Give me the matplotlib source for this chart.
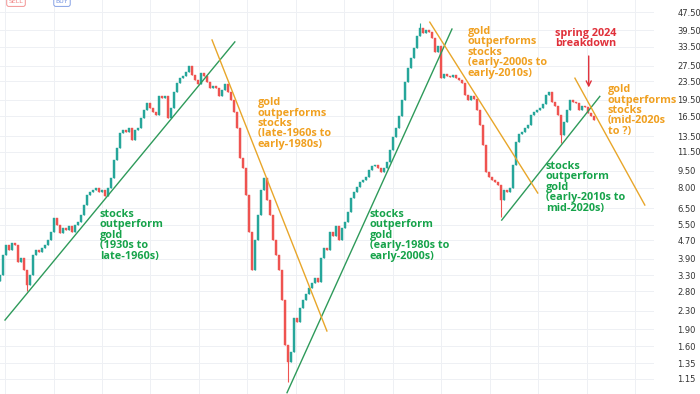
import numpy as np
import matplotlib.pyplot as plt

# stocks / gold ratio, one candle close per step
closes = [
    3.30, 4.04, 4.48, 4.25, 4.57, 4.48, 3.76, 3.92, 3.47, 2.98,
    3.30, 4.04, 4.25, 4.16, 4.34, 4.48, 4.71, 5.11, 5.88, 5.47,
    5.05, 5.31, 5.21, 5.42, 5.11, 5.47, 5.64, 6.06, 6.71, 7.42,
    7.65, 7.81, 7.98, 7.65, 7.81, 7.35, 7.98, 8.82, 10.59, 11.96,
    13.93, 14.36, 14.07, 14.65, 12.97, 14.36, 14.65, 16.22, 17.59, 18.88,
    17.94, 17.24, 16.72, 20.23, 19.82, 20.23, 16.22, 17.94, 21.07, 23.09,
    24.34, 24.84, 25.87, 27.47, 25.09, 23.80, 22.85, 25.61, 24.84, 23.32,
    21.94, 22.39, 21.94, 20.23, 21.50, 22.85, 21.07, 19.46, 17.24, 14.65,
    10.81, 9.76, 7.42, 5.11, 3.47, 4.71, 6.06, 7.81, 8.82, 7.06,
    6.06, 4.71, 4.04, 3.47, 2.56, 1.63, 1.36, 1.51, 2.13, 2.05,
    2.36, 2.56, 2.72, 2.90, 3.05, 3.20, 3.08, 3.92, 4.34, 4.25,
    5.11, 4.90, 5.42, 4.71, 5.31, 5.64, 6.25, 7.20, 7.65, 8.06,
    8.48, 8.65, 8.91, 9.57, 9.96, 10.07, 9.76, 9.38, 9.76, 10.38,
    11.72, 13.37, 14.65, 16.55, 19.46, 23.32, 26.92, 29.78, 33.01, 37.26,
    40.38, 38.41, 39.60, 38.80, 36.51, 31.65, 33.68, 24.34, 25.35, 24.84,
    24.59, 25.09, 24.34, 23.80, 23.09, 20.44, 19.46, 20.23, 19.62, 17.59,
    15.10, 12.33, 9.38, 8.91, 8.65, 8.48, 8.22, 7.06, 7.81, 7.65,
    7.98, 10.07, 12.71, 13.79, 14.07, 14.65, 15.10, 16.72, 17.24, 17.59,
    17.94, 18.69, 20.44, 21.07, 19.07, 18.31, 16.72, 13.65, 15.57, 17.59,
    19.46, 19.07, 18.88, 17.59, 18.31, 18.13, 17.06, 16.55, 15.89,
]
first_open = 3.10

# a few long wicks
wick_idx = [9, 96, 140, 167, 187]
wick_low = [2.80, 1.11, 38.0, 5.94, 12.58]
wick_high = [3.40, 1.60, 42.5, 7.30, 15.0]

price_ticks = [1.15, 1.35, 1.60, 1.90, 2.30, 2.80, 3.30, 3.90, 4.70, 5.50,
               6.50, 8.00, 9.50, 11.50, 13.50, 16.50, 19.50, 23.50, 27.50,
               33.50, 39.50, 47.50]

# trend lines: (x0, y0, x1, y1) in candle index / ratio
green_lines = [(1.67, 2.09, 78.3, 35.1),
               (95.7, 1.00, 150.7, 40.0),
               (167.3, 5.76, 200.0, 20.2)]
orange_lines = [(70.7, 35.8, 109.0, 1.87),
                (143.3, 42.9, 179.3, 7.58),
                (191.7, 24.3, 215.0, 6.71)]

GREEN = '#26a69a'
RED = '#ef5350'
TXT_GREEN = '#16a34a'
TXT_ORANGE = '#f0a020'
LINE_GREEN = '#2e9a5a'
LINE_ORANGE = '#e8a62a'

fig = plt.figure(figsize=(7, 3.94), dpi=100)
ax = fig.add_axes([0, 0, 0.934, 1])

closes = np.array(closes)
opens = np.concatenate([[first_open], closes[:-1]])
idx = np.arange(len(closes))
colors = [GREEN if c >= o else RED for o, c in zip(opens, closes)]
lo = np.minimum(opens, closes)
hi = np.maximum(opens, closes)

ax.vlines(idx, lo, hi, colors=colors, linewidth=0.8, zorder=3)
for i, l, h in zip(wick_idx, wick_low, wick_high):
    ax.vlines(i, l, h, colors=colors[i], linewidth=0.8, zorder=3)
ax.bar(idx, hi - lo, bottom=lo, width=0.65, color=colors, edgecolor=colors,
       linewidth=0.3, zorder=3)

for x0, y0, x1, y1 in green_lines:
    ax.plot([x0, x1], [y0, y1], color=LINE_GREEN, lw=1.0, zorder=4)
for x0, y0, x1, y1 in orange_lines:
    ax.plot([x0, x1], [y0, y1], color=LINE_ORANGE, lw=1.0, zorder=4)

ax.annotate('', xy=(196.3, 21.5), xytext=(196.3, 31.3),
            arrowprops=dict(arrowstyle='->', color='#e0303a', lw=1.0,
                            mutation_scale=9), zorder=5)

font = dict(family=['Open Sans', 'DejaVu Sans'], fontweight='bold',
            fontsize=7.8, va='top', ha='left', linespacing=0.92, zorder=6)
ax.text(33.3, 6.44, 'stocks\noutperform\ngold\n(1930s to\nlate-1960s)',
        color=TXT_GREEN, **font)
ax.text(86.0, 20.0, 'gold\noutperforms\nstocks\n(late-1960s to\nearly-1980s)',
        color=TXT_ORANGE, **font)
ax.text(123.3, 6.44, 'stocks\noutperform\ngold\n(early-1980s to\nearly-2000s)',
        color=TXT_GREEN, **font)
ax.text(156.0, 41.2, 'gold\noutperforms\nstocks\n(early-2000s to\nearly-2010s)',
        color=TXT_ORANGE, **font)
ax.text(185.0, 40.4, 'spring 2024\nbreakdown', color='#e0303a', **font)
ax.text(202.7, 22.85, 'gold\noutperforms\nstocks\n(mid-2020s\nto ?)',
        color=TXT_ORANGE, **font)
ax.text(182.0, 10.48, 'stocks\noutperform\ngold\n(early-2010s to\nmid-2020s)',
        color=TXT_GREEN, **font)

ax.set_yscale('log')
ax.set_ylim(0.987, 53.7)
ax.set_xlim(0, 218)
ax.yaxis.tick_right()
ax.set_yticks(price_ticks)
ax.set_yticklabels(['%.2f' % t for t in price_ticks])
ax.minorticks_off()
ax.tick_params(axis='y', length=0, pad=17, labelsize=6.0, labelcolor='#333333')
ax.set_xticks(np.arange(1.67, 218, 16.17))
ax.tick_params(axis='x', length=0, labelbottom=False)
ax.grid(True, color='#eef0f4', lw=0.7, zorder=0)
for s in ax.spines.values():
    s.set_visible(False)

fig.text(16 / 700, 0.995, 'SELL', color='#f08080', fontsize=4.5, ha='center',
         va='center', bbox=dict(boxstyle='round,pad=0.3', fc='white',
                                ec='#f08080', lw=0.6))
fig.text(62 / 700, 0.995, 'BUY', color='#7090e0', fontsize=4.5, ha='center',
         va='center', bbox=dict(boxstyle='round,pad=0.3', fc='white',
                                ec='#7090e0', lw=0.6))

fig.savefig('out.png', dpi=100)
